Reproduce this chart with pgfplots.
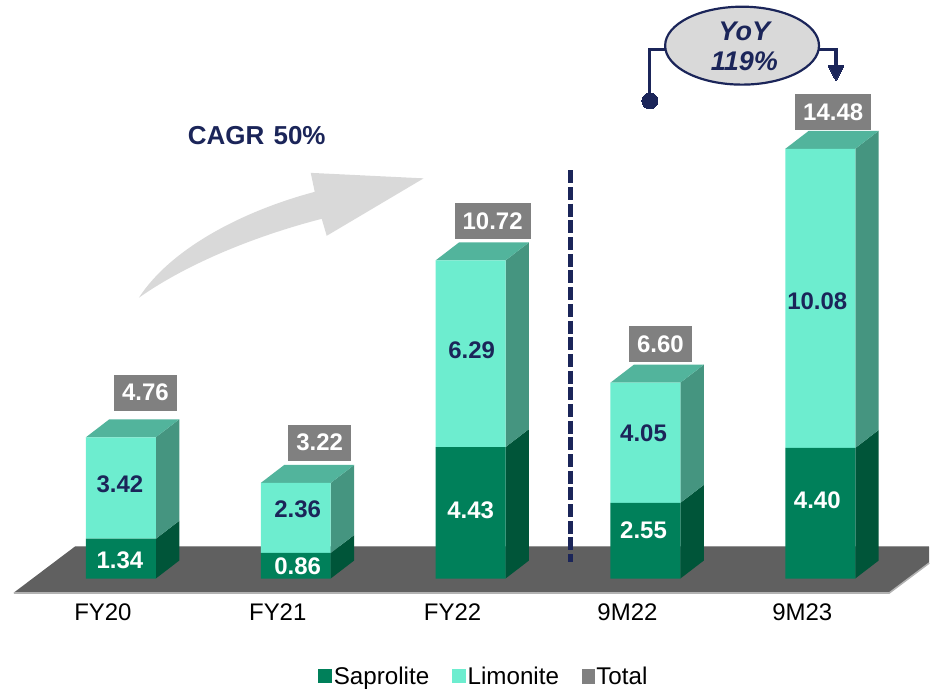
\documentclass[border=0pt]{standalone}
\usepackage{pgfplots}
\pgfplotsset{compat=1.18}
\usepackage{fontspec}
\setmainfont{Liberation Sans}
\definecolor{sap}{HTML}{00805A}
\definecolor{sapside}{HTML}{005539}
\definecolor{lim}{HTML}{6DEDCF}
\definecolor{limside}{HTML}{459580}
\definecolor{limtop}{HTML}{52B49C}
\definecolor{totalc}{HTML}{808080}
\definecolor{navy}{HTML}{1B2559}
\definecolor{floorc}{HTML}{606060}
\definecolor{swoosh}{HTML}{D9D9D9}
\pgfplotsset{
  common/.style={scale only axis,width=930pt,height=691pt,at={(0,0)},anchor=south west,clip=false},
  pxaxis/.style={common,hide axis,xmin=0,xmax=930,ymin=0,ymax=691,y dir=reverse},
  valaxis/.style={common,xmin=-0.6914,xmax=4.6229,ymin=-3.771,ymax=19.495},
  poly/.style={draw=none,fill=#1,mark=none,forget plot},
}
\begin{document}
\begin{tikzpicture}
% floor and swoosh, pixel frame
\begin{axis}[pxaxis]
\addplot[poly=floorc] coordinates {(14,593) (75,547) (930,547) (930,563) (890,593)} -- cycle;
\addplot[draw=black!30,line width=1.6pt,mark=none] coordinates {(14,593.5) (890,593.5) (930,563.5)};
\addplot[draw=black!42,line width=1.2pt,mark=none] coordinates {(75,547) (930,547)};
\fill[swoosh] (axis cs:139,298) .. controls (axis cs:170,250) and (axis cs:240,212) .. (axis cs:315,192)
  -- (axis cs:311,173) -- (axis cs:424,178.5) -- (axis cs:327,236) -- (axis cs:322,219)
  .. controls (axis cs:260,235) and (axis cs:190,262) .. (axis cs:139,298) -- cycle;
\end{axis}
% side and top faces, value frame
\begin{axis}[valaxis,hide axis]
% saprolite sides
\addplot[poly=sapside] coordinates {(0.2,0) (0.334,0.606) (0.334,1.946) (0.2,1.34)} -- cycle;
\addplot[poly=sapside] coordinates {(1.2,0) (1.334,0.606) (1.334,1.466) (1.2,0.86)} -- cycle;
\addplot[poly=sapside] coordinates {(2.2,0) (2.334,0.606) (2.334,5.036) (2.2,4.43)} -- cycle;
\addplot[poly=sapside] coordinates {(3.2,0) (3.334,0.606) (3.334,3.156) (3.2,2.55)} -- cycle;
\addplot[poly=sapside] coordinates {(4.2,0) (4.334,0.606) (4.334,5.006) (4.2,4.40)} -- cycle;
% limonite sides
\addplot[poly=limside] coordinates {(0.2,1.34) (0.334,1.946) (0.334,5.366) (0.2,4.76)} -- cycle;
\addplot[poly=limside] coordinates {(1.2,0.86) (1.334,1.466) (1.334,3.826) (1.2,3.22)} -- cycle;
\addplot[poly=limside] coordinates {(2.2,4.43) (2.334,5.036) (2.334,11.326) (2.2,10.72)} -- cycle;
\addplot[poly=limside] coordinates {(3.2,2.55) (3.334,3.156) (3.334,7.206) (3.2,6.60)} -- cycle;
\addplot[poly=limside] coordinates {(4.2,4.40) (4.334,5.006) (4.334,15.086) (4.2,14.48)} -- cycle;
% tops
\addplot[poly=limtop] coordinates {(-0.2,4.76) (-0.066,5.366) (0.334,5.366) (0.2,4.76)} -- cycle;
\addplot[poly=limtop] coordinates {(0.8,3.22) (0.934,3.826) (1.334,3.826) (1.2,3.22)} -- cycle;
\addplot[poly=limtop] coordinates {(1.8,10.72) (1.934,11.326) (2.334,11.326) (2.2,10.72)} -- cycle;
\addplot[poly=limtop] coordinates {(2.8,6.60) (2.934,7.206) (3.334,7.206) (3.2,6.60)} -- cycle;
\addplot[poly=limtop] coordinates {(3.8,14.48) (3.934,15.086) (4.334,15.086) (4.2,14.48)} -- cycle;
\end{axis}
% stacked front faces
\begin{axis}[valaxis,hide axis,ybar stacked,bar width=70pt]
\addplot[fill=sap,draw=none] coordinates {(0,1.34) (1,0.86) (2,4.43) (3,2.55) (4,4.40)};
\addplot[fill=lim,draw=none] coordinates {(0,3.42) (1,2.36) (2,6.29) (3,4.05) (4,10.08)};
\end{axis}
% annotations, pixel frame
\begin{axis}[pxaxis]
\addplot[navy,line width=4.4pt,mark=none,dash pattern=on 13pt off 3.7pt] coordinates {(571,170.5) (571,562)};
\addplot[navy,line width=3.6pt,mark=none] coordinates {(650,101) (650,49.5) (668,49.5)};
\addplot[navy,line width=3.6pt,mark=none] coordinates {(818,49.5) (837,49.5) (837,68)};
\addplot[navy,fill=navy,line width=0pt,mark=none] coordinates {(829,66) (844.5,66) (836.7,81)} -- cycle;
\addplot[only marks,mark=*,mark size=8pt,mark options={fill=navy,draw=navy,line width=0pt}] coordinates {(650.5,101)};
\draw[navy,line width=2.2pt,fill=swoosh] (axis cs:742.7,45.7) ellipse [x radius=77pt,y radius=39pt];
\node[text=navy,font=\fontsize{27}{30}\selectfont\bfseries\itshape] at (axis cs:745,31) {YoY};
\node[text=navy,font=\fontsize{27}{30}\selectfont\bfseries\itshape] at (axis cs:745,61) {119\%};
\node[text=navy,font=\fontsize{26}{29}\selectfont\bfseries] at (axis cs:257,136) {CAGR\hspace{2pt} 50\%};
\end{axis}
% labels, ticks and legend
\begin{axis}[valaxis,
  axis line style={draw=none},tick style={draw=none},
  xtick={0,1,2,3,4},xticklabels={FY20,FY21,FY22,9M22,9M23},ytick=\empty,
  xticklabel style={font=\fontsize{24}{27}\selectfont,text=black,anchor=base,xshift=-18pt,yshift=70pt},
  point meta=explicit symbolic,
  legend style={at={(0.5208,0.02)},anchor=center,draw=none,fill=none,font=\fontsize{24.2}{27}\selectfont,
    /tikz/every even column/.append style={column sep=21pt},inner sep=0pt},
  legend columns=3,legend cell align=left,
]
\addplot[only marks,mark=none,nodes near coords,
  every node near coord/.append style={anchor=center,text=white,font=\fontsize{24}{27}\selectfont\bfseries,inner sep=0pt},
  legend image code/.code={\fill[sap] (-4.5pt,-6pt) rectangle (8.5pt,7pt);}]
  coordinates {(-0.006,0.61) [1.34] (1.011,0.41) [0.86] (2.0,2.29) [4.43] (2.989,1.62) [2.55] (3.983,2.63) [4.40]};
\addlegendentry{Saprolite}
\addplot[only marks,mark=none,nodes near coords,
  every node near coord/.append style={anchor=center,text=navy,font=\fontsize{24}{27}\selectfont\bfseries,inner sep=0pt},
  legend image code/.code={\fill[lim] (-3pt,-6pt) rectangle (10pt,7pt);}]
  coordinates {(-0.006,3.17) [3.42] (1.011,2.33) [2.36] (2.006,7.68) [6.29] (2.989,4.89) [4.05] (3.983,9.33) [10.08]};
\addlegendentry{Limonite}
\addplot[only marks,mark=none,nodes near coords,
  every node near coord/.append style={anchor=center,text=white,fill=totalc,font=\fontsize{24}{27}\selectfont\bfseries,inner xsep=8pt,inner ysep=0pt,minimum height=36pt,minimum width=63pt},
  legend image code/.code={\fill[totalc] (-3pt,-7pt) rectangle (9pt,7pt);}]
  coordinates {(0.14,6.26) [4.76] (1.137,4.58) [3.22] (2.126,12.05) [10.72] (3.086,7.91) [6.60] (4.074,15.72) [14.48]};
\addlegendentry{Total}
\end{axis}
\end{tikzpicture}
\end{document}
